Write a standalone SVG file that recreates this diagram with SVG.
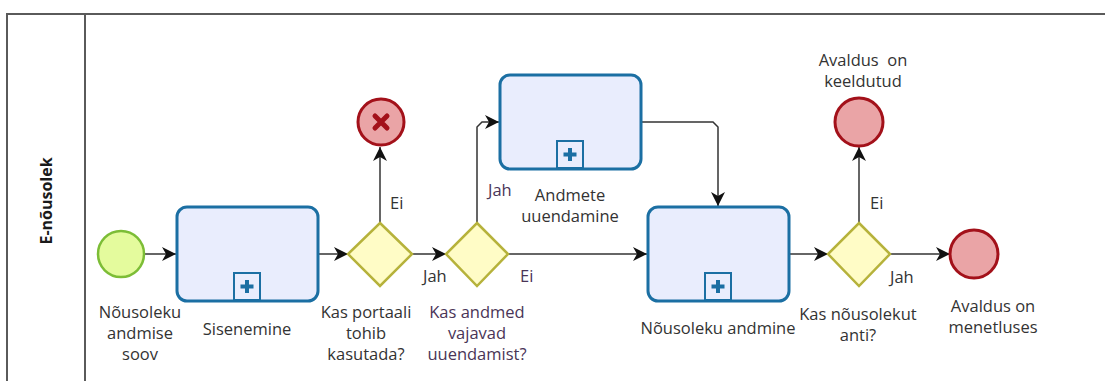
<svg xmlns="http://www.w3.org/2000/svg" width="1105" height="381" viewBox="0 0 1105 381">
  <style>
    .pool { fill: none; stroke: #5a5a5a; stroke-width: 2; }
    .task { fill: #e9edfd; stroke: #1b6fa3; stroke-width: 3; }
    .mk { fill: #e9edfd; stroke: #1b6fa3; stroke-width: 2; }
    .plus { stroke: #1b6fa3; stroke-width: 4; fill: none; }
    .gw { fill: #fffcc6; stroke: #b6b23b; stroke-width: 2.5; }
    .start { fill: #e4fb9d; stroke: #7cbd36; stroke-width: 2.5; }
    .end { fill: #eaa4a6; stroke: #a3111a; stroke-width: 3; }
    .cross { stroke: #a3111a; stroke-width: 5; stroke-linecap: round; fill: none; }
    .flow { fill: none; stroke: #333333; stroke-width: 1.5; marker-end: url(#arrow); }
    text { font-family: "Open Sans", "Noto Sans", sans-serif; font-size: 16.5px; fill: #333333; }
    .c { text-anchor: middle; }
    .p { fill: #4a3557; }
    .lane { font-weight: bold; font-size: 16px; fill: #1a1a1a; text-anchor: middle; }
  </style>
  <defs>
    <marker id="arrow" markerUnits="userSpaceOnUse" markerWidth="16" markerHeight="16" refX="14" refY="7" orient="auto">
      <path d="M0,0 L14,7 L0,14 L4,7 z" fill="#111111"/>
    </marker>
  </defs>

  <!-- pool and lane header -->
  <g id="pool">
    <path class="pool" d="M7,381 L7,14 L1105,14"/>
    <line class="pool" x1="85" y1="14" x2="85" y2="381"/>
    <text class="lane" transform="translate(52,201) rotate(-90)">E-nõusolek</text>
  </g>

  <!-- sequence flows -->
  <g id="connectors">
    <path class="flow" d="M144,254 L176,254"/>
    <path class="flow" d="M319,254 L348,254"/>
    <path class="flow" d="M380,223 L380,147"/>
    <path class="flow" d="M412,254 L446,254"/>
    <path class="flow" d="M477,223 L477,127 L482,122 L499,122"/>
    <path class="flow" d="M508,254 L647,254"/>
    <path class="flow" d="M642,122 L713,122 L718,127 L718,206"/>
    <path class="flow" d="M790,254 L828,254"/>
    <path class="flow" d="M859,223 L859,147"/>
    <path class="flow" d="M890,254 L950,254"/>
    <text x="390" y="209">Ei</text>
    <text x="423" y="282">Jah</text>
    <text class="p" x="488" y="196">Jah</text>
    <text class="p" x="520" y="282">Ei</text>
    <text x="870" y="209">Ei</text>
    <text x="890" y="283">Jah</text>
  </g>

  <g id="start">
    <circle class="start" cx="121" cy="254" r="23"/>
    <text class="c" x="140" y="318">Nõusoleku</text>
    <text class="c" x="140" y="339">andmise</text>
    <text class="c" x="140" y="360">soov</text>
  </g>

  <g id="sisenemine">
    <rect class="task" x="177" y="207" width="141" height="94" rx="10"/>
    <rect class="mk" x="234" y="273" width="26" height="27"/>
    <path class="plus" d="M240.5,286.5 H253.5 M247,280 V293"/>
    <text class="c" x="247" y="335">Sisenemine</text>
  </g>

  <g id="gw-portaal">
    <polygon class="gw" points="380,223 412,254 380,286 348,254"/>
    <text class="c" x="366" y="318">Kas portaali</text>
    <text class="c" x="366" y="339">tohib</text>
    <text class="c" x="366" y="360">kasutada?</text>
  </g>

  <g id="end-error">
    <circle class="end" cx="381" cy="122" r="23"/>
    <path class="cross" d="M375,116 L387,128 M387,116 L375,128"/>
  </g>

  <g id="gw-andmed">
    <polygon class="gw" points="477,223 508,254 477,286 446,254"/>
    <text class="c p" x="477" y="318">Kas andmed</text>
    <text class="c p" x="477" y="339">vajavad</text>
    <text class="c p" x="477" y="360">uuendamist?</text>
  </g>

  <g id="andmete-uuendamine">
    <rect class="task" x="500" y="75" width="141" height="94" rx="10"/>
    <rect class="mk" x="557" y="141" width="26" height="27"/>
    <path class="plus" d="M563.5,154.5 H576.5 M570,148 V161"/>
    <text class="c" x="570" y="201">Andmete</text>
    <text class="c" x="570" y="222">uuendamine</text>
  </g>

  <g id="nousoleku-andmine">
    <rect class="task" x="648" y="207" width="141" height="94" rx="10"/>
    <rect class="mk" x="705" y="273" width="26" height="27"/>
    <path class="plus" d="M711.5,286.5 H724.5 M718,280 V293"/>
    <text class="c" x="718" y="334">Nõusoleku andmine</text>
  </g>

  <g id="gw-anti">
    <polygon class="gw" points="859,223 890,254 859,286 828,254"/>
    <text class="c" x="858" y="320">Kas nõusolekut</text>
    <text class="c" x="858" y="341">anti?</text>
  </g>

  <g id="end-keeldutud">
    <circle class="end" cx="859" cy="122" r="24"/>
    <text class="c" x="863" y="66" xml:space="preserve">Avaldus  on</text>
    <text class="c" x="863" y="87">keeldutud</text>
  </g>

  <g id="end-menetluses">
    <circle class="end" cx="974" cy="254" r="24"/>
    <text class="c" x="993" y="312">Avaldus on</text>
    <text class="c" x="993" y="333">menetluses</text>
  </g>
</svg>
